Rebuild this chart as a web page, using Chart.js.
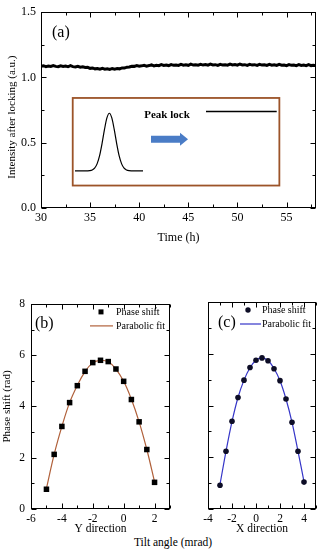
<!DOCTYPE html>
<html><head><meta charset="utf-8">
<script src="https://cdn.jsdelivr.net/npm/chart.js@4.4.1/dist/chart.umd.min.js"></script>
<style>
html,body{margin:0;padding:0;background:#fff;width:326px;height:550px;overflow:hidden;}
.box{position:absolute;}
#tilt{position:absolute;left:0;width:346px;top:536px;line-height:14px;text-align:center;font:11.5px 'Liberation Serif','Times New Roman',serif;color:#000;}
</style></head><body>
<div class="box" style="left:0;top:0;width:326px;height:250px"><canvas id="ca"></canvas></div>
<div class="box" style="left:0;top:291px;width:174px;height:245px"><canvas id="cb"></canvas></div>
<div class="box" style="left:172px;top:291px;width:154px;height:245px"><canvas id="cc"></canvas></div>
<div id="tilt">Tilt angle (mrad)</div>
<script>
// ---------- (a) data ----------
const timeH = [30,30.25,30.5,30.75,31,31.25,31.5,31.75,32,32.25,32.5,32.75,33,33.25,33.5,33.75,34,34.25,34.5,34.75,
35,35.25,35.5,35.75,36,36.25,36.5,36.75,37,37.25,37.5,37.75,38,38.25,38.5,38.75,39,39.25,39.5,39.75,
40,40.25,40.5,40.75,41,41.25,41.5,41.75,42,42.25,42.5,42.75,43,43.25,43.5,43.75,44,44.25,44.5,44.75,
45,45.25,45.5,45.75,46,46.25,46.5,46.75,47,47.25,47.5,47.75,48,48.25,48.5,48.75,49,49.25,49.5,49.75,
50,50.25,50.5,50.75,51,51.25,51.5,51.75,52,52.25,52.5,52.75,53,53.25,53.5,53.75,54,54.25,54.5,54.75,
55,55.25,55.5,55.75,56,56.25,56.5,56.75,57,57.25,57.5,57.75,58];
const intensity = [1.086,1.090,1.083,1.088,1.084,1.091,1.085,1.082,1.089,1.084,1.087,1.082,1.090,1.083,1.080,1.086,1.079,1.082,1.076,1.078,
1.070,1.073,1.066,1.069,1.063,1.070,1.064,1.067,1.062,1.069,1.064,1.068,1.066,1.073,1.072,1.079,1.080,1.086,1.085,1.091,
1.086,1.089,1.093,1.087,1.091,1.096,1.089,1.094,1.090,1.098,1.092,1.095,1.091,1.099,1.093,1.096,1.092,1.100,1.094,1.097,
1.093,1.102,1.095,1.098,1.094,1.101,1.095,1.099,1.094,1.102,1.096,1.098,1.093,1.101,1.095,1.098,1.094,1.102,1.096,1.099,
1.094,1.103,1.096,1.098,1.093,1.101,1.095,1.098,1.093,1.101,1.095,1.097,1.092,1.100,1.094,1.097,1.092,1.100,1.094,1.096,
1.091,1.099,1.093,1.096,1.091,1.098,1.092,1.095,1.090,1.098,1.091,1.094,1.090];
const timeTicks = [30,35,40,45,50,55];
const intensityTicks = [0,0.5,1.0,1.5];
// inset sketch (drawn in the axes of panel a)
const insetPeakX = [33.46,34.5,34.96,35.21,35.46,35.71,35.96,36.21,36.46,36.71,36.96,37.21,37.46,37.71,37.96,38.21,38.46,38.71,38.96,39.5,40.39];
const insetPeakY = [0.284,0.284,0.286,0.291,0.305,0.338,0.399,0.492,0.600,0.690,0.726,0.690,0.600,0.492,0.399,0.338,0.305,0.291,0.286,0.284,0.284];
const insetLockX = [46.8,54.0];
const insetLockY = [0.739,0.739];
const insetLabel = 'Peak lock';
const yTitleA = 'Intensity after locking (a.u.)';

// ---------- (b) data ----------
const tiltYdir = [-5,-4.5,-4,-3.5,-3,-2.5,-2,-1.5,-1,-0.5,0,0.5,1,1.5,2];
const phaseYdir = [0.77,2.13,3.22,4.15,4.81,5.37,5.71,5.80,5.75,5.46,4.98,4.27,3.40,2.32,1.04];
const fitYdir = [0.80,2.13,3.22,4.15,4.82,5.36,5.70,5.80,5.74,5.46,4.98,4.28,3.40,2.32,1.06];
const tiltTicksB = [-6,-4,-2,0,2];
// ---------- (c) data ----------
const tiltXdir = [-3,-2.5,-2,-1.5,-1,-0.5,0,0.5,1,1.5,2,2.5,3,3.5,4];
const phaseXdir = [0.92,2.23,3.39,4.31,4.98,5.47,5.75,5.84,5.73,5.42,4.96,4.25,3.35,2.23,1.04];
const fitXdir = [0.95,2.23,3.38,4.31,4.98,5.46,5.75,5.84,5.74,5.43,4.96,4.25,3.35,2.23,1.06];
const tiltTicksC = [-4,-2,0,2,4];
const phaseTicks = [0,2,4,6,8];

const SERIF = "'Liberation Serif','Times New Roman',serif";
Chart.defaults.font.family = SERIF;
Chart.defaults.color = '#000';
Chart.defaults.animation = false;

const pts = (xs, ys) => xs.map((x, i) => ({x, y: ys[i]}));
const setTicks = (arr) => (scale) => { scale.ticks = arr.map(v => ({value: v})); };

// frame + inward major/minor ticks on all four sides
const frameTicks = {
  id: 'frameTicks',
  afterDatasetsDraw(chart, args, o) {
    const {ctx, chartArea: a, scales: {x, y}} = chart;
    ctx.save();
    ctx.strokeStyle = '#000'; ctx.lineWidth = 1;
    const L = Math.round(a.left) + 0.5, T = Math.round(a.top) + 0.5, R = Math.round(a.right) - 0.5, B = Math.round(a.bottom) - 0.5;
    ctx.strokeRect(L, T, R - L, B - T);
    const tick = (axis, sc, step, major) => {
      for (let v = sc.min; v <= sc.max + 1e-9; v += step) {
        const r = (v - sc.min) / major;
        const len = Math.abs(r - Math.round(r)) < 1e-6 ? 5 : 3;
        const p = Math.round(sc.getPixelForValue(v)) + 0.5;
        ctx.beginPath();
        if (axis === 'x') { ctx.moveTo(p, B); ctx.lineTo(p, B - len); ctx.moveTo(p, T); ctx.lineTo(p, T + len); }
        else { ctx.moveTo(L, p); ctx.lineTo(L + len, p); ctx.moveTo(R, p); ctx.lineTo(R - len, p); }
        ctx.stroke();
      }
    };
    tick('x', x, o.xMinor, o.xMajor);
    tick('y', y, o.yMinor, o.yMajor);
    ctx.restore();
  }
};
const panelLabel = {
  id: 'panelLabel',
  afterDatasetsDraw(chart, args, o) {
    const {ctx, chartArea: a} = chart;
    ctx.save();
    ctx.font = '16px ' + SERIF; ctx.fillStyle = '#000'; ctx.textBaseline = 'middle'; ctx.textAlign = 'left';
    ctx.fillText(o.text, a.left + o.dx, a.top + o.dy);
    if (o.yTitle) {
      ctx.font = '11px ' + SERIF; ctx.textAlign = 'center';
      ctx.translate(o.yTitle.x, (a.top + a.bottom) / 2 + o.yTitle.dy);
      ctx.rotate(-Math.PI / 2);
      ctx.fillText(o.yTitle.text, 0, 0);
    }
    ctx.restore();
  }
};
const manualLegend = {
  id: 'manualLegend',
  afterDatasetsDraw(chart, args, o) {
    if (!o.items) return;
    const {ctx, chartArea: a} = chart;
    ctx.save();
    ctx.font = '10px ' + SERIF; ctx.textBaseline = 'middle'; ctx.textAlign = 'left';
    o.items.forEach(it => {
      const ds = chart.data.datasets[it.index];
      const y = a.top + it.dy;
      if (it.kind === 'marker') {
        ctx.fillStyle = ds.pointBackgroundColor;
        const cx = a.right + it.mx;
        if (ds.pointStyle === 'rect') ctx.fillRect(cx - 2.5, y - 2.5, 5, 5);
        else { ctx.beginPath(); ctx.arc(cx, y, 2.7, 0, 2 * Math.PI); ctx.fill(); }
      } else {
        ctx.strokeStyle = ds.borderColor; ctx.lineWidth = ds.borderWidth;
        ctx.beginPath(); ctx.moveTo(a.right + it.x1, y); ctx.lineTo(a.right + it.x2, y); ctx.stroke();
      }
      ctx.fillStyle = '#000';
      ctx.fillText(ds.label, a.right + it.tx, y);
    });
    ctx.restore();
  }
};
// inset frame, arrow and label for panel (a)
const insetDecor = {
  id: 'insetDecor',
  beforeDatasetsDraw(chart, args, o) {
    if (!o.box) return;
    const {ctx, scales: {x, y}} = chart;
    ctx.save();
    const x1 = x.getPixelForValue(o.box[0]), x2 = x.getPixelForValue(o.box[1]);
    const y1 = y.getPixelForValue(o.box[2]), y2 = y.getPixelForValue(o.box[3]);
    ctx.fillStyle = '#fff'; ctx.fillRect(x1, y1, x2 - x1, y2 - y1);
    ctx.strokeStyle = '#9c5429'; ctx.lineWidth = 1.8; ctx.strokeRect(x1, y1, x2 - x1, y2 - y1);
    const ax1 = x.getPixelForValue(o.arrow[0]), ax2 = x.getPixelForValue(o.arrow[1]), ay = y.getPixelForValue(o.arrow[2]);
    ctx.fillStyle = '#4a7cc6';
    ctx.beginPath();
    ctx.moveTo(ax1, ay - 3.5); ctx.lineTo(ax2 - 8, ay - 3.5); ctx.lineTo(ax2 - 8, ay - 6.5); ctx.lineTo(ax2, ay);
    ctx.lineTo(ax2 - 8, ay + 6.5); ctx.lineTo(ax2 - 8, ay + 3.5); ctx.lineTo(ax1, ay + 3.5); ctx.closePath(); ctx.fill();
    ctx.fillStyle = '#000'; ctx.font = 'bold 11px ' + SERIF; ctx.textAlign = 'center'; ctx.textBaseline = 'middle';
    ctx.fillText(insetLabel, x.getPixelForValue(o.label[0]), y.getPixelForValue(o.label[1]));
    ctx.restore();
  }
};
Chart.register(frameTicks, panelLabel, manualLegend, insetDecor);

// ---------- chart (a) ----------
new Chart(document.getElementById('ca'), {
  type: 'line',
  data: { datasets: [
    { label: 'Intensity', data: pts(timeH, intensity), borderColor: '#000', borderWidth: 3, pointRadius: 0, tension: 0 },
    { label: 'inset peak', data: pts(insetPeakX, insetPeakY), borderColor: '#000', borderWidth: 1.2, pointRadius: 0, cubicInterpolationMode: 'monotone' },
    { label: 'inset lock', data: pts(insetLockX, insetLockY), borderColor: '#000', borderWidth: 1.5, pointRadius: 0 }
  ]},
  options: {
    responsive: true, maintainAspectRatio: false,
    layout: { padding: { left: 0, right: 10, top: 7, bottom: 0 } },
    plugins: { legend: { display: false }, tooltip: { enabled: false },
      frameTicks: { xMajor: 5, xMinor: 2.5, yMajor: 0.5, yMinor: 0.25 },
      panelLabel: { text: '(a)', dx: 11, dy: 21, yTitle: { text: yTitleA, x: 12, dy: 7 } },
      manualLegend: {},
      insetDecor: { box: [33.23, 54.27, 0.843, 0.172], arrow: [41.2, 44.97, 0.526], label: [42.83, 0.709] }
    },
    scales: {
      x: { type: 'linear', min: 30, max: 58, afterBuildTicks: setTicks(timeTicks),
        afterFit: s => { s.height = 42; },
        grid: { display: false, drawTicks: false }, border: { display: false },
        ticks: { padding: 3, font: { size: 12 }, maxRotation: 0 },
        title: { display: true, text: 'Time (h)', font: { size: 12 }, padding: { top: 0, bottom: 5 } } },
      y: { type: 'linear', min: 0, max: 1.5, afterBuildTicks: setTicks(intensityTicks),
        afterFit: s => { s.width = 41; },
        grid: { display: false, drawTicks: false }, border: { display: false },
        ticks: { padding: 5, font: { size: 12 }, callback: v => v.toFixed(1) },
        title: { display: false } }
    }
  }
});

// ---------- charts (b) and (c) ----------
const bottomScales = (xmin, xmax, xticks, showY) => ({
  x: { type: 'linear', min: xmin, max: xmax, afterBuildTicks: setTicks(xticks),
    afterFit: s => { s.height = 27; },
    grid: { display: false, drawTicks: false }, border: { display: false },
    ticks: { padding: 3, font: { size: 11.5 }, maxRotation: 0 },
    title: { display: true, text: showY ? 'Y direction' : 'X direction', font: { size: 11.5 }, padding: { top: 0, bottom: 0 } } },
  y: { type: 'linear', min: 0, max: 8, display: showY, afterBuildTicks: setTicks(phaseTicks),
    afterFit: s => { s.width = 31; },
    grid: { display: false, drawTicks: false }, border: { display: false },
    ticks: { padding: 6, font: { size: 11.5 } },
    title: { display: true, text: 'Phase shift (rad)', font: { size: 11 }, padding: { top: 1, bottom: 0 } } }
});

new Chart(document.getElementById('cb'), {
  type: 'line',
  data: { datasets: [
    { label: 'Phase shift', data: pts(tiltYdir, phaseYdir), showLine: false, pointStyle: 'rect', pointRadius: 3.9,
      pointBackgroundColor: '#000', pointBorderColor: '#000', pointBorderWidth: 0, borderColor: '#000' },
    { label: 'Parabolic fit', data: pts(tiltYdir, fitYdir), borderColor: '#b0603a', borderWidth: 1.2, pointRadius: 0, tension: 0.4 }
  ]},
  options: {
    responsive: true, maintainAspectRatio: false,
    layout: { padding: { left: 0, right: 4, top: 11, bottom: 0 } },
    plugins: { legend: { display: false }, tooltip: { enabled: false },
      frameTicks: { xMajor: 2, xMinor: 1, yMajor: 2, yMinor: 1 },
      panelLabel: { text: '(b)', dx: 4, dy: 20 },
      manualLegend: { items: [
        { index: 0, kind: 'marker', mx: -69, tx: -54, dy: 8 },
        { index: 1, kind: 'line', x1: -80, x2: -57, tx: -54, dy: 22 } ] },
      insetDecor: {}
    },
    scales: bottomScales(-6, 3, tiltTicksB, true)
  }
});

new Chart(document.getElementById('cc'), {
  type: 'line',
  data: { datasets: [
    { label: 'Phase shift', data: pts(tiltXdir, phaseXdir), showLine: false, pointStyle: 'circle', pointRadius: 2.8,
      pointBackgroundColor: '#0d0d26', pointBorderColor: '#0d0d26', pointBorderWidth: 0, borderColor: '#0d0d26' },
    { label: 'Parabolic fit', data: pts(tiltXdir, fitXdir), borderColor: '#3535c8', borderWidth: 1.2, pointRadius: 0, tension: 0.4 }
  ]},
  options: {
    responsive: true, maintainAspectRatio: false,
    layout: { padding: { left: 5, right: 10, top: 11, bottom: 0 } },
    plugins: { legend: { display: false }, tooltip: { enabled: false },
      frameTicks: { xMajor: 2, xMinor: 1, yMajor: 2, yMinor: 1 },
      panelLabel: { text: '(c)', dx: 10, dy: 21 },
      manualLegend: { items: [
        { index: 0, kind: 'marker', mx: -68, tx: -54, dy: 8 },
        { index: 1, kind: 'line', x1: -76, x2: -55, tx: -54, dy: 22 } ] },
      insetDecor: {}
    },
    scales: bottomScales(-4, 5, tiltTicksC, false)
  }
});
</script>
</body></html>
